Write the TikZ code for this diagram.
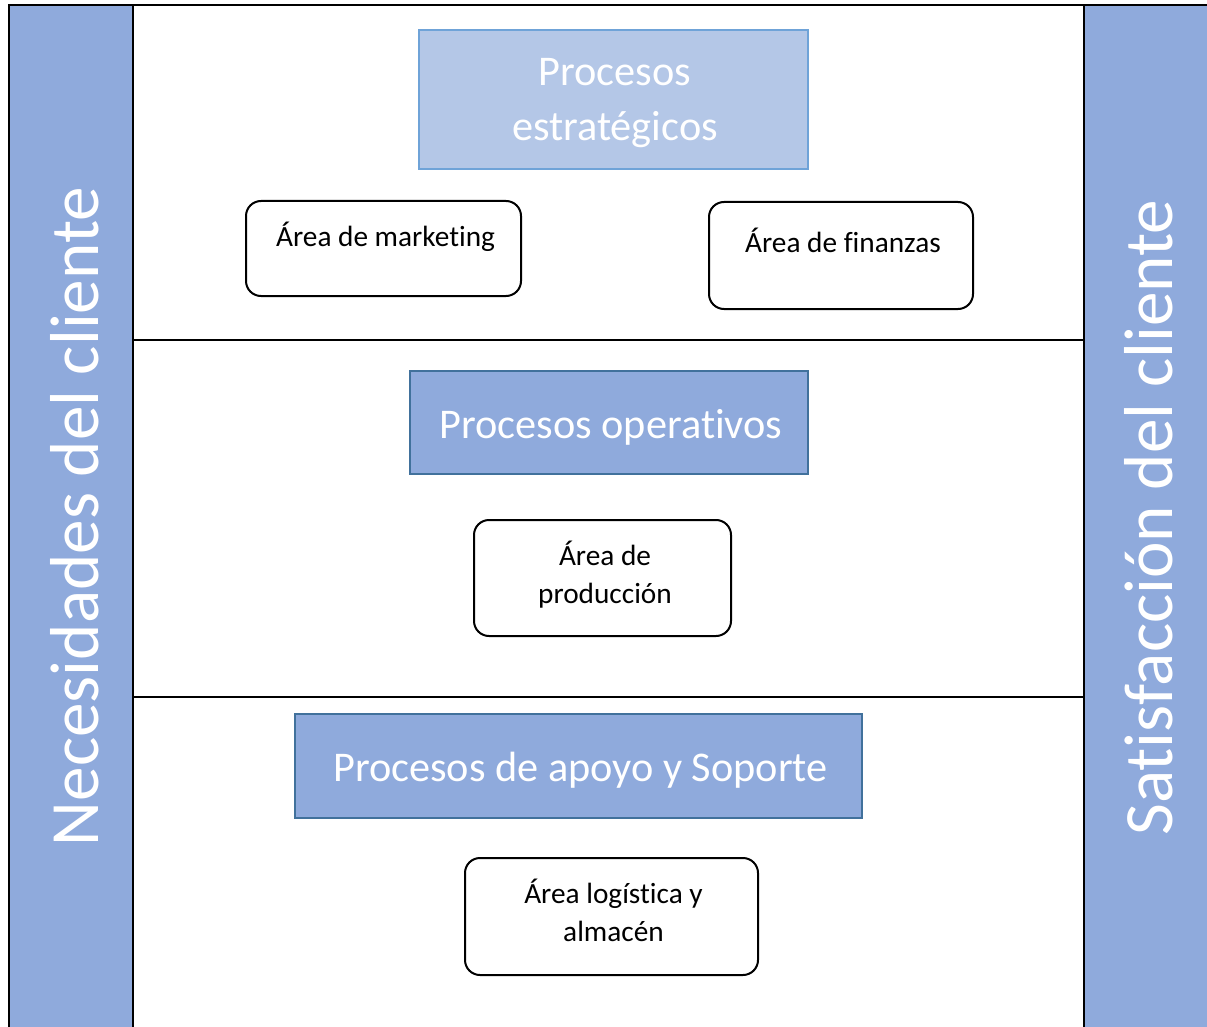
\documentclass[tikz,border=0pt]{standalone}
\usepackage{fontspec}
\setmainfont[Ligatures=NoCommon]{Carlito}
\definecolor{bandblue}{HTML}{8FAADC}
\definecolor{lightblue}{HTML}{B4C7E7}
\definecolor{lightedge}{HTML}{6FA3D8}
\definecolor{darkedge}{HTML}{41719C}
\begin{document}
\begin{tikzpicture}[x=1pt,y=-1pt,
  frame/.style={line width=2.5pt, draw=black},
  stratbox/.style={draw=lightedge, fill=lightblue, line width=1.5pt, inner sep=0pt},
  procbox/.style={draw=darkedge, fill=bandblue, line width=2pt, inner sep=0pt},
  areabox/.style={draw=black, fill=white, line width=2pt, rounded corners=15pt, inner sep=0pt},
  headtext/.style={text=white, font=\fontsize{42.3}{55}\selectfont, align=center, inner sep=0pt, anchor=base},
  areatext/.style={text=black, font=\fontsize{29.3}{38}\selectfont, align=center, inner sep=0pt, anchor=base},
  sidetext/.style={text=white, font=\fontsize{69.2}{80}\selectfont, rotate=90, inner sep=0pt, anchor=base}
]
\useasboundingbox (0,0) rectangle (1207,1027);
% side bands
\fill[bandblue] (9,5) rectangle (133,1030);
\fill[bandblue] (1084,5) rectangle (1210,1030);
\draw[frame] (9,1030) -- (9,5) -- (1210,5);
\draw[frame] (133,5) -- (133,1030);
\draw[frame] (1084,5) -- (1084,1030);
\draw[frame] (133,340) -- (1084,340);
\draw[frame] (133,697) -- (1084,697);

\node[sidetext] (nec) at (98,516.5) {Necesidades del cliente};
\node[sidetext] (sat) at (1172,517.5) {Satisfacción del cliente};

% process headers
\node[stratbox, minimum width=389, minimum height=139] (estr) at (613.5,99.5) {};
\node[headtext] (estrt) at (615,141) {Procesos\\estratégicos};
\node[procbox, minimum width=398, minimum height=103] (oper) at (609,422.5) {};
\node[headtext] (opert) at (611,438) {Procesos operativos};
\node[procbox, minimum width=567, minimum height=104] (apoyo) at (578.5,766) {};
\node[headtext] (apoyot) at (580.5,781) {Procesos de apoyo y Soporte};

% areas
\node[areabox, minimum width=275, minimum height=95] (mkt) at (383.5,248.5) {};
\node[areatext] (mktt) at (385.5,246) {Área de marketing};
\node[areabox, minimum width=264, minimum height=107] (fin) at (841,255.5) {};
\node[areatext] (fint) at (843,252) {Área de finanzas};
\node[areabox, minimum width=257, minimum height=116] (prod) at (602.5,578) {};
\node[areatext] (prodt) at (605,603) {Área de\\producción};
\node[areabox, minimum width=293, minimum height=117] (log) at (611.5,916.5) {};
\node[areatext] (logt) at (613.5,941) {Área logística y\\almacén};
\end{tikzpicture}
\end{document}
